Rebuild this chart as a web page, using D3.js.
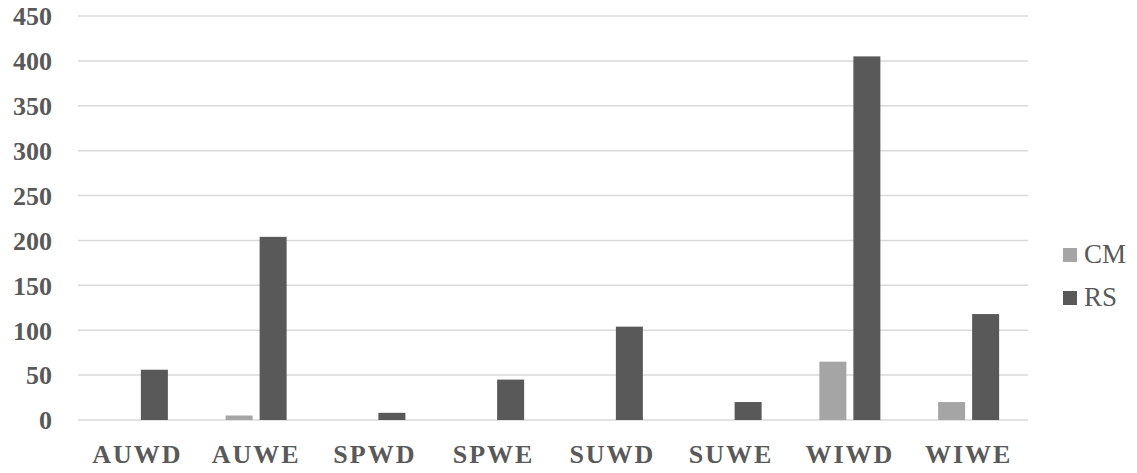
<!DOCTYPE html>
<html><head><meta charset="utf-8">
<script src="https://cdn.jsdelivr.net/npm/d3@7/dist/d3.min.js"></script>
<style>body{margin:0;background:#fff}svg{display:block}</style>
</head><body>
<svg id="c" width="1137" height="473"></svg>
<script>
const categories = ["AUWD","AUWE","SPWD","SPWE","SUWD","SUWE","WIWD","WIWE"];
const seriesNames = ["CM","RS"];
const cmValues = [0, 5, 0, 0, 0, 0, 65, 20];
const rsValues = [56, 204, 8, 45, 104, 20, 405, 118];
const yTicks = [0,50,100,150,200,250,300,350,400,450];
const colors = {CM:"#a5a5a5", RS:"#595959"};

(function(){
const svg = d3.select("#c");
const pLeft = 78, pRight = 1028, pTop = 16, pBottom = 420;
const x = d3.scaleBand().domain(categories).range([pLeft, pRight]).paddingInner(0).paddingOuter(0);
const y = d3.scaleLinear().domain([0,450]).range([pBottom, pTop]);
const barW = 27, gap = 7;
const sub = d3.scaleOrdinal().domain(seriesNames).range([-(gap/2+barW), gap/2]);

svg.append("g").selectAll("line").data(yTicks).join("line")
  .attr("x1", pLeft).attr("x2", pRight)
  .attr("y1", d=>y(d)).attr("y2", d=>y(d))
  .attr("stroke", "#d9d9d9").attr("stroke-width", 1.5);

const yAxis = d3.axisLeft(y).tickValues(yTicks).tickSize(0).tickPadding(0);
const ya = svg.append("g").attr("transform", `translate(52,0)`).call(yAxis);
ya.select(".domain").remove();
ya.selectAll("text").attr("font-family","'Liberation Serif', 'Times New Roman', serif")
  .attr("font-weight","bold").attr("font-size",26).attr("fill","#595959").attr("dy","0.34em");

const xAxis = d3.axisBottom(x).tickSize(0).tickPadding(0);
const xa = svg.append("g").attr("transform", `translate(0,463)`).call(xAxis);
xa.select(".domain").remove();
xa.selectAll("text").attr("font-family","'Liberation Serif', 'Times New Roman', serif")
  .attr("font-weight","bold").attr("font-size",26).attr("fill","#595959")
  .attr("dy", 0).attr("letter-spacing", "2px");

const data = [];
categories.forEach((c,i)=>{
  data.push({c, s:"CM", v:cmValues[i]});
  data.push({c, s:"RS", v:rsValues[i]});
});
svg.append("g").selectAll("rect").data(data.filter(d=>d.v>0)).join("rect")
  .attr("x", d=>x(d.c)+x.bandwidth()/2+sub(d.s))
  .attr("width", barW)
  .attr("y", d=>y(d.v))
  .attr("height", d=>y(0)-y(d.v))
  .attr("fill", d=>colors[d.s]);

const lg = svg.append("g");
seriesNames.forEach((s,i)=>{
  const yy = 248 + i*43;
  lg.append("rect").attr("x",1063).attr("y",yy).attr("width",14).attr("height",14).attr("fill",colors[s]);
  lg.append("text").attr("x",1084).attr("y",yy+15).text(s)
    .attr("font-family","'Liberation Serif', 'Times New Roman', serif")
    .attr("font-size",27).attr("fill","#595959");
});
})();
</script>
</body></html>
